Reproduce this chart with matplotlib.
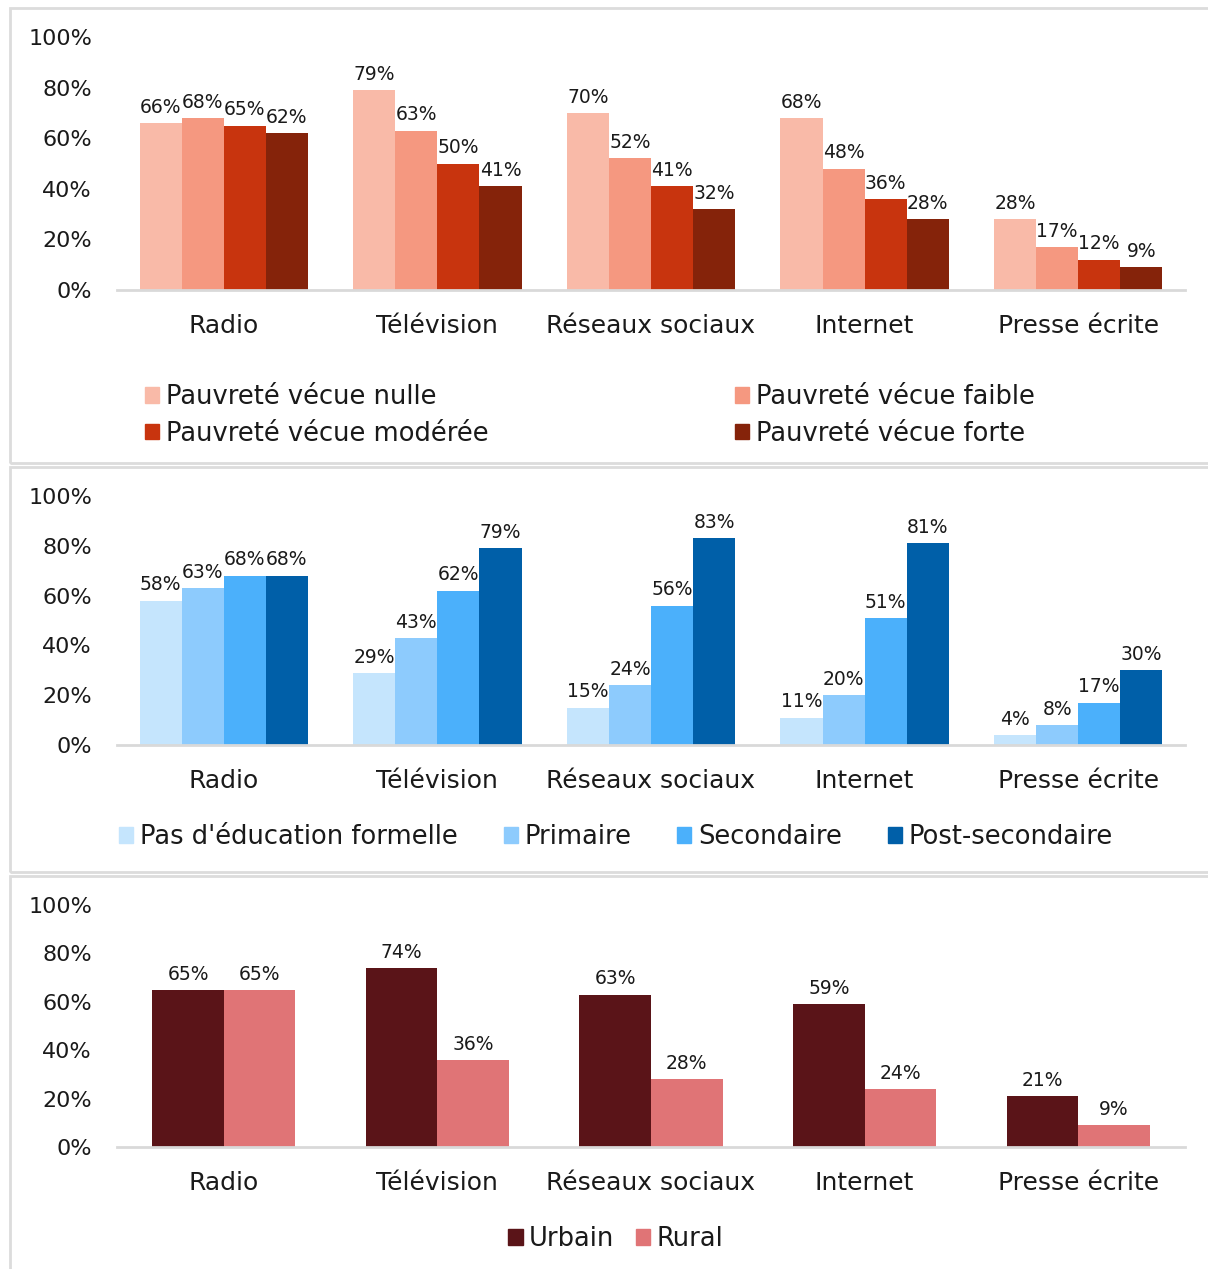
import numpy as np
import matplotlib.pyplot as plt
from matplotlib.patches import Rectangle, Patch

plt.rcParams['font.family'] = ['DejaVu Sans']

categories = ['Radio', 'Télévision', 'Réseaux sociaux', 'Internet', 'Presse écrite']

# Pauvreté vécue
pauv_labels = ['Pauvreté vécue nulle', 'Pauvreté vécue faible',
               'Pauvreté vécue modérée', 'Pauvreté vécue forte']
pauv_nulle = [66, 79, 70, 68, 28]
pauv_faible = [68, 63, 52, 48, 17]
pauv_moderee = [65, 50, 41, 36, 12]
pauv_forte = [62, 41, 32, 28, 9]
pauv_colors = ['#F9BAA8', '#F59880', '#C8340E', '#85230A']

# Niveau d'éducation
educ_labels = ["Pas d'éducation formelle", 'Primaire', 'Secondaire', 'Post-secondaire']
educ_aucune = [58, 29, 15, 11, 4]
educ_primaire = [63, 43, 24, 20, 8]
educ_secondaire = [68, 62, 56, 51, 17]
educ_post = [68, 79, 83, 81, 30]
educ_colors = ['#C5E5FD', '#8DCBFD', '#4BB0FB', '#005FA8']

# Milieu de résidence
milieu_labels = ['Urbain', 'Rural']
urbain = [65, 74, 63, 59, 21]
rural = [65, 36, 28, 24, 9]
milieu_colors = ['#5A1418', '#E07476']

W, H = 1208, 1269
fig = plt.figure(figsize=(W / 100, H / 100), dpi=100)
TXT = '#1a1a1a'


def px_box(left, top, right, bottom):
    return [left / W, 1 - bottom / H, (right - left) / W, (bottom - top) / H]


# panel frames
for top, bottom in [(8, 463), (467, 872), (876, 1275)]:
    fig.patches.append(Rectangle((10 / W, 1 - bottom / H), (W + 10) / W, (bottom - top) / H,
                                 transform=fig.transFigure, fill=False,
                                 edgecolor='#DCDCDC', linewidth=2))


def grouped(ax, series, colors, width):
    x = np.arange(len(categories))
    n = len(series)
    for i, (vals, col) in enumerate(zip(series, colors)):
        pos = x + (i - (n - 1) / 2) * width
        bars = ax.bar(pos, vals, width, color=col, edgecolor='none')
        for b, v in zip(bars, vals):
            ax.text(b.get_x() + b.get_width() / 2, v + 2.5, f'{v}%', ha='center', va='bottom',
                    fontsize=13.5, color=TXT)
    ax.set_xlim(-0.5, len(categories) - 0.5)
    ax.set_ylim(0, 100)
    ax.set_yticks(range(0, 101, 20))
    ax.set_yticklabels([f'{t}%' for t in range(0, 101, 20)], fontsize=16, color=TXT)
    ax.set_xticks(x)
    ax.set_xticklabels(categories, fontsize=18, color=TXT)
    ax.tick_params(axis='y', length=0, pad=18)
    ax.tick_params(axis='x', length=0, pad=17)
    for s in ['top', 'left', 'right']:
        ax.spines[s].set_visible(False)
    ax.spines['bottom'].set_color('#D9D9D9')
    ax.spines['bottom'].set_linewidth(2)


leg_kw = dict(frameon=False, fontsize=18.5, handlelength=0.55, handleheight=0.55,
              handletextpad=0.25, labelcolor=TXT, borderpad=0, borderaxespad=0)

ax1 = fig.add_axes(px_box(117, 37, 1185, 290))
grouped(ax1, [pauv_nulle, pauv_faible, pauv_moderee, pauv_forte], pauv_colors, 0.197)
h1 = [Patch(color=c) for c in pauv_colors]
fig.legend([h1[0], h1[2]], [pauv_labels[0], pauv_labels[2]], loc='upper left',
           bbox_to_anchor=(145 / W, 1 - 384 / H), labelspacing=0.42, **leg_kw)
fig.legend([h1[1], h1[3]], [pauv_labels[1], pauv_labels[3]], loc='upper left',
           bbox_to_anchor=(735 / W, 1 - 384 / H), labelspacing=0.42, **leg_kw)

ax2 = fig.add_axes(px_box(117, 496, 1185, 745))
grouped(ax2, [educ_aucune, educ_primaire, educ_secondaire, educ_post], educ_colors, 0.197)
h2 = [Patch(color=c) for c in educ_colors]
fig.legend(h2, educ_labels, loc='upper left', bbox_to_anchor=(119 / W, 1 - 824 / H),
           ncol=4, columnspacing=1.8, **leg_kw)

ax3 = fig.add_axes(px_box(117, 905, 1185, 1147))
grouped(ax3, [urbain, rural], milieu_colors, 0.335)
h3 = [Patch(color=c) for c in milieu_colors]
fig.legend(h3, milieu_labels, loc='upper center', bbox_to_anchor=(616 / W, 1 - 1226 / H),
           ncol=2, columnspacing=0.85, **leg_kw)

fig.savefig('out.png', dpi=100)
